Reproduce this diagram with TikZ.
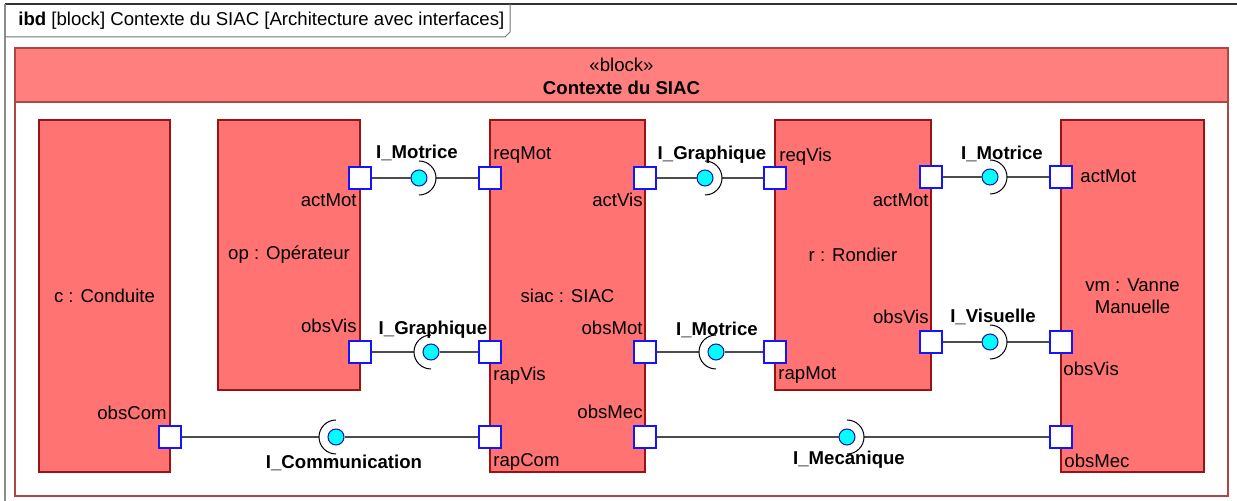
\documentclass[tikz,border=0pt]{standalone}
\usepackage{fontspec}
\setmainfont{Liberation Sans}
\usetikzlibrary{positioning, calc}
\definecolor{blocfond}{RGB}{255,115,115}
\definecolor{blocbord}{RGB}{150,20,20}
\definecolor{entete}{RGB}{255,127,127}
\definecolor{cadrebord}{RGB}{175,70,70}
\definecolor{portbleu}{RGB}{20,20,255}
\definecolor{boulecyan}{RGB}{0,255,255}

\tikzset{
  txt/.style={font=\fontsize{9.3}{11}\selectfont, inner sep=0pt},
  bloc/.style={txt, draw=blocbord, fill=blocfond, line width=0.6pt,
               align=center},
  port/.style={draw=portbleu, fill=white, minimum size=11pt,
               inner sep=0pt, line width=0.6pt},
  boule/.style={circle, draw=portbleu!70!black, fill=boulecyan,
                minimum size=8pt, inner sep=0pt, line width=0.5pt},
  lien/.style={draw=black!70, line width=0.6pt},
  prise/.style={draw=black, line width=0.5pt},
  iface/.style={txt, font=\bfseries\fontsize{9.3}{11}\selectfont},
}

\begin{document}
\begin{tikzpicture}[x=0.5pt, y=-0.5pt]
    \useasboundingbox (0,0) rectangle (1237,501);

    % --- cadre du diagramme ---
    \draw[black!80, line width=0.6pt] (5,4) -- (1240,4);
    \draw[black!45, line width=0.6pt] (5,4) -- (5,505);
    \draw[black!55, line width=0.5pt] (5,37) -- (505,37) -- (510,32) -- (510,4);
    \node[txt, anchor=west] (titre) at (18,21)
          {\textbf{ibd} [block] Contexte du SIAC [Architecture avec interfaces]};

    % --- bloc englobant ---
    \draw[cadrebord, line width=0.6pt, fill=white] (15,102) rectangle (1228,496);
    \draw[cadrebord, line width=0.6pt, fill=entete] (15,48) rectangle (1228,102);
    \node[txt] (stereo) at (621.5,65) {«block»};
    \node[txt, font=\bfseries\fontsize{9.3}{11}\selectfont] (ctx) at (621.5,88)
          {Contexte du SIAC};

    % --- parties ---
    \node[bloc, minimum width=65.5pt, minimum height=176pt] (c) at (104.5,296)
          {c : Conduite};
    \node[bloc, minimum width=71pt, minimum height=135pt] (op) at (289,255)
          {op : Opérateur};
    \node[bloc, minimum width=77.5pt, minimum height=176pt] (siac) at (567.5,296)
          {siac : SIAC};
    \node[bloc, minimum width=78pt, minimum height=135pt] (r) at (853,255)
          {r : Rondier};
    \node[bloc, minimum width=71.5pt, minimum height=176pt] (vm) at (1132.5,296)
          {vm : Vanne\\Manuelle};

    % --- ports ---
    \node[port] (opActMot)   at (360,178) {};
    \node[port] (opObsVis)   at (360,352) {};
    \node[port] (siacReqMot) at (490,178) {};
    \node[port] (siacRapVis) at (490,352) {};
    \node[port] (siacRapCom) at (490,437) {};
    \node[port] (siacActVis) at (645,178) {};
    \node[port] (siacObsMot) at (645,352) {};
    \node[port] (siacObsMec) at (645,437) {};
    \node[port] (rReqVis)    at (775,178) {};
    \node[port] (rRapMot)    at (775,352) {};
    \node[port] (rActMot)    at (931,177) {};
    \node[port] (rObsVis)    at (931,342) {};
    \node[port] (vmActMot)   at (1061,177) {};
    \node[port] (vmObsVis)   at (1061,342) {};
    \node[port] (vmObsMec)   at (1061,437) {};
    \node[port] (cObsCom)    at (170,437) {};

    % --- noms des ports ---
    \node[txt, anchor=east] (lOpActMot)   at (357,200) {actMot};
    \node[txt, anchor=east] (lOpObsVis)   at (357,326) {obsVis};
    \node[txt, anchor=west] (lSiacReqMot) at (493,155) {reqMot};
    \node[txt, anchor=west] (lSiacRapVis) at (493,376) {rapVis};
    \node[txt, anchor=west] (lSiacRapCom) at (493,462) {rapCom};
    \node[txt, anchor=east] (lSiacActVis) at (643,200) {actVis};
    \node[txt, anchor=east] (lSiacObsMot) at (643,328) {obsMot};
    \node[txt, anchor=east] (lSiacObsMec) at (643,412) {obsMec};
    \node[txt, anchor=west] (lRReqVis)    at (779,157) {reqVis};
    \node[txt, anchor=west] (lRRapMot)    at (778,375) {rapMot};
    \node[txt, anchor=east] (lRActMot)    at (929,200) {actMot};
    \node[txt, anchor=east] (lRObsVis)    at (929,317) {obsVis};
    \node[txt, anchor=west] (lVmActMot)   at (1080,176) {actMot};
    \node[txt, anchor=west] (lVmObsVis)   at (1063,369) {obsVis};
    \node[txt, anchor=west] (lVmObsMec)   at (1064,461) {obsMec};
    \node[txt, anchor=east] (lCObsCom)    at (167,413) {obsCom};

    % --- interfaces (boule + prise) ---
    \node[boule] (b1) at (419,178) {};
    \node[boule] (b2) at (431,352) {};
    \node[boule] (b3) at (705,178) {};
    \node[boule] (b4) at (990,177) {};
    \node[boule] (b5) at (990,342) {};
    \node[boule] (b6) at (716,352) {};
    \node[boule] (b7) at (336,437) {};
    \node[boule] (b8) at (847,437) {};

    % prise ouverte vers la gauche (boule cote gauche)
    \foreach \b/\src/\dst in {b1/opActMot/siacReqMot, b3/siacActVis/rReqVis,
                              b4/rActMot/vmActMot, b5/rObsVis/vmObsVis,
                              b8/siacObsMec/vmObsMec}{
      \coordinate (s-\b) at ([xshift=8.5pt]\b.center);
      \draw[lien] (\src) -- (\b);
      \draw[lien] (s-\b) -- (\dst);
      \draw[prise] ([yshift=8.5pt]\b.center)
            arc[start angle=90, end angle=-90, radius=8.5pt];
    }
    % prise ouverte vers la droite (boule cote droit)
    \foreach \b/\src/\dst in {b2/opObsVis/siacRapVis, b6/siacObsMot/rRapMot,
                              b7/cObsCom/siacRapCom}{
      \coordinate (s-\b) at ([xshift=-8.5pt]\b.center);
      \draw[lien] (\src) -- (s-\b);
      \draw[lien] (\b) -- (\dst);
      \draw[prise] ([yshift=8.5pt]\b.center)
            arc[start angle=90, end angle=270, radius=8.5pt];
    }

    % Labels
    \node[iface] (i1) at (417,153) {I\_Motrice};
    \node[iface] (i2) at (433,330) {I\_Graphique};
    \node[iface] (i3) at (712,155) {I\_Graphique};
    \node[iface] (i4) at (1002,154) {I\_Motrice};
    \node[iface] (i5) at (993,317) {I\_Visuelle};
    \node[iface] (i6) at (717,330) {I\_Motrice};
    \node[iface] (i7) at (344,463) {I\_Communication};
    \node[iface] (i8) at (849,460) {I\_Mecanique};
  \end{tikzpicture}
\end{document}
